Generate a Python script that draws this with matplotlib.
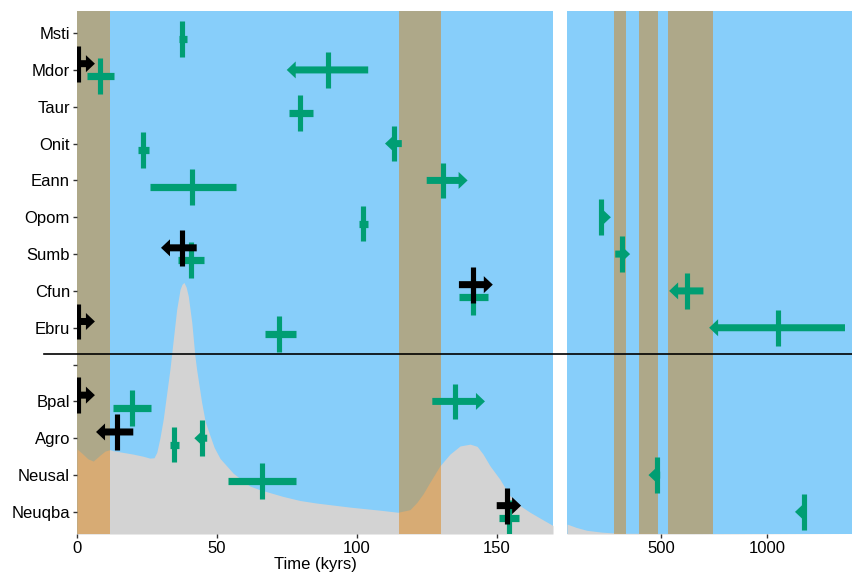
import matplotlib
matplotlib.use("Agg")
import matplotlib.pyplot as plt
from matplotlib.patches import FancyArrow
from matplotlib.lines import Line2D

plt.rcParams['font.family'] = ['Liberation Sans', 'DejaVu Sans']

# y axis categories, bottom to top ("" = empty slot under the divider)
species = ["Neuqba", "Neusal", "Agro", "Bpal", "", "Ebru", "Cfun",
           "Sumb", "Opom", "Eann", "Onit", "Taur", "Mdor", "Msti"]

# age estimates (kyrs): species, group, point, low, high, open end
m_species = ["Msti", "Mdor", "Mdor", "Mdor", "Taur", "Onit", "Onit", "Eann", "Eann",
             "Opom", "Opom", "Sumb", "Sumb", "Sumb", "Cfun", "Cfun", "Cfun",
             "Ebru", "Ebru", "Ebru", "Bpal", "Bpal", "Bpal", "Agro", "Agro", "Agro",
             "Neusal", "Neusal", "Neuqba", "Neuqba", "Neuqba"]
m_group = ["low", "black", "low", "mid", "low", "low", "mid", "low", "mid",
           "low", "mid", "black", "low", "mid", "black", "low", "mid",
           "black", "low", "mid", "black", "low", "mid", "black", "low", "mid",
           "low", "mid", "black", "low", "mid"]
m_age = [37.6, 0.5, 8.2, 89.75, 79.75, 23.7, 113.3, 41.2, 130.8,
         102.3, 218, 37.6, 40.7, 315, 141.5, 141.5, 623.6,
         0.5, 72.25, 1051.5, 0.5, 19.5, 135, 14.4, 34.75, 44.75,
         66, 479.8, 153.5, 154.4, 1173.5]
m_lo = [36.4, 0.5, 3.7, 74.9, 75.7, 21.7, 110, 26.1, 124.9,
        100.8, 218, 30, 36, 284, 136.4, 136.4, 537.6,
        0.5, 67.1, 725.7, 0.5, 13, 126.9, 6.8, 33.2, 41.9,
        53.8, 440.3, 149.9, 150.8, 1129.7]
m_hi = [39.3, 6.4, 13.3, 104, 84.4, 25.8, 116, 56.7, 139.5,
        103.8, 263.5, 42.75, 45.5, 354, 148.5, 146.9, 698.9,
        6.4, 78.1, 1365, 6.4, 26.4, 145.7, 20.1, 36.4, 46.5,
        78.1, 495.3, 158.6, 158, 1184.7]
m_arrow = ["", ">", "", "<", "", "", "<", "", ">",
           "", ">", "<", "", ">", ">", "", "<",
           ">", "", "<", ">", "", ">", "<", "", "<",
           "", "<", ">", "", "<"]

# interglacial bands (kyrs)
bands_left = [(0, 11.7), (115, 130)]
bands_right = [(280, 335), (397, 486), (531, 746)]

# background density curve
dens_t = [0, 2.1, 3.9, 5.8, 8.2, 10, 11.8, 13, 20, 23.7, 26, 27.5, 28.5, 29.6, 30.8,
          32, 33.2, 34.4, 35.6, 36.8, 37.5, 38.2, 39, 39.75, 41, 42.1, 42.7, 44.5,
          45.8, 47.5, 49, 51.1, 55.8, 61.8, 65.4, 73.6, 79.6, 85.6, 97.5, 109,
          114.6, 118.9, 121.4, 123.6, 126, 129.6, 133.2, 136.8, 140.4, 142.9, 145,
          147.5, 151, 154.6, 158.2, 161.8, 165.4, 170]
dens_h = [2.71, 2.57, 2.44, 2.38, 2.54, 2.65, 2.69, 2.66, 2.57, 2.51, 2.46, 2.47, 2.62,
          3.0, 3.52, 4.2, 4.88, 5.69, 6.5, 7.04, 7.18, 7.23, 7.1, 6.86, 6.14, 5.24,
          4.88, 3.98, 3.45, 3.07, 2.75, 2.45, 2.05, 1.70, 1.60, 1.42, 1.31, 1.24,
          1.13, 1.04, 0.99, 1.06, 1.26, 1.49, 1.80, 2.25, 2.57, 2.79, 2.84, 2.78,
          2.57, 2.25, 1.89, 1.44, 1.17, 0.99, 0.83, 0.63]
dens_t2 = [57, 100, 150, 222, 300, 1400]
dens_h2 = [0.67, 0.58, 0.50, 0.45, 0.42, 0.40]

colors = {"black": "black", "low": "#009E73", "mid": "#009E73"}
offsets = {"black": 0.17, "low": -0.17, "mid": 0.0}
zorders = {"black": 5, "low": 3, "mid": 4}

W, H = 852, 573
fig = plt.figure(figsize=(W / 100, H / 100), dpi=100)
ax1 = fig.add_axes([77 / W, 39 / H, 476 / W, 523 / H])
ax2 = fig.add_axes([567 / W, 39 / H, 285 / W, 523 / H])
ax1.set_xlim(0, 170)
ax2.set_xlim(57, 1398)

ypx = 523 / 14.2
for ax, bands in ((ax1, bands_left), (ax2, bands_right)):
    ax.set_facecolor("#87CEFA")
    ax.set_ylim(0.4, 14.6)
    for s in ax.spines.values():
        s.set_visible(False)
    ax.tick_params(length=3, width=1, color="#333333", labelsize=12,
                   labelcolor="black", pad=2)
    for lo, hi in bands:
        ax.axvspan(lo, hi, color=(222 / 255, 123 / 255, 0), alpha=0.45, lw=0, zorder=1)

ax1.fill_between(dens_t, 0.4, dens_h, color="#D3D3D3", lw=0, zorder=0.5)
ax2.fill_between(dens_t2, 0.4, dens_h2, color="#D3D3D3", lw=0, zorder=0.5)

ax1.set_yticks(range(1, len(species) + 1))
ax1.set_yticklabels(species)
ax2.set_yticks([])
ax1.set_xticks([0, 50, 100, 150])
ax2.set_xticks([500, 1000])
ax1.set_xlabel("Time (kyrs)", fontsize=12, labelpad=1)

for sp, g, age, lo, hi, arr in zip(m_species, m_group, m_age, m_lo, m_hi, m_arrow):
    ax = ax1 if age <= 170 else ax2
    x0, x1 = ax.get_xlim()
    xpx = (ax.get_position().width * W) / (x1 - x0)
    y = species.index(sp) + 1 + offsets[g]
    c = colors[g]
    z = zorders[g]
    if arr == "":
        ax.plot([lo, hi], [y, y], color=c, lw=5.2, solid_capstyle="butt", zorder=z)
    else:
        start, tip = (lo, hi) if arr == ">" else (hi, lo)
        ax.add_patch(FancyArrow(start, y, tip - start, 0, width=7 / ypx,
                                head_width=17 / ypx, head_length=9 / xpx,
                                length_includes_head=True, color=c, lw=0, zorder=z))
    ax.plot([age, age], [y - 0.485, y + 0.485], color=c, lw=3.7,
            solid_capstyle="butt", zorder=z)

# divider between the two groups of species, across both panels
fig.canvas.draw()
yline = ax1.transData.transform((0, 5.3))[1] / H
fig.add_artist(Line2D([44 / W, 1], [yline, yline], color="black", lw=1.2,
                      transform=fig.transFigure, zorder=10))

fig.savefig("out.png", dpi=100)
